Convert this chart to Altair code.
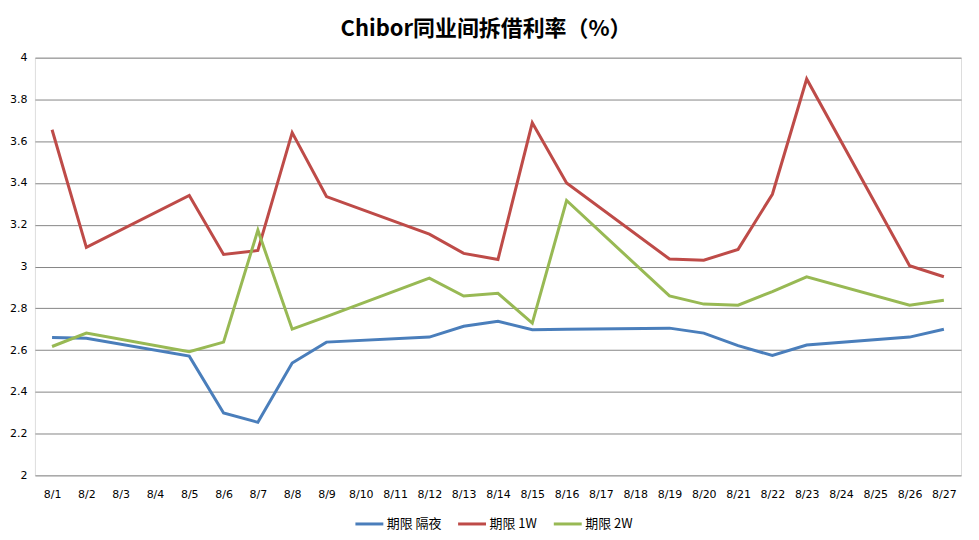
import altair as alt
import pandas as pd

all_days = ["8/1", "8/2", "8/3", "8/4", "8/5", "8/6", "8/7", "8/8", "8/9", "8/10",
            "8/11", "8/12", "8/13", "8/14", "8/15", "8/16", "8/17", "8/18", "8/19",
            "8/20", "8/21", "8/22", "8/23", "8/24", "8/25", "8/26", "8/27"]

dates = ["8/1", "8/2", "8/5", "8/6", "8/7", "8/8", "8/9", "8/12", "8/13", "8/14",
         "8/15", "8/16", "8/19", "8/20", "8/21", "8/22", "8/23", "8/26", "8/27"]

overnight = [2.660, 2.657, 2.571, 2.299, 2.254, 2.538, 2.638, 2.662, 2.714, 2.738,
             2.697, 2.700, 2.705, 2.681, 2.621, 2.574, 2.624, 2.662, 2.700]
week1 = [3.655, 3.092, 3.340, 3.058, 3.077, 3.641, 3.335, 3.155, 3.063, 3.034,
         3.688, 3.400, 3.036, 3.030, 3.082, 3.346, 3.898, 3.004, 2.951]
week2 = [2.617, 2.681, 2.592, 2.638, 3.174, 2.700, 2.760, 2.944, 2.859, 2.872,
         2.729, 3.316, 2.859, 2.820, 2.815, 2.880, 2.951, 2.815, 2.838]

series_names = ["期限 隔夜", "期限 1W", "期限 2W"]
series_colors = ["#4A7EBB", "#BE4B48", "#98B954"]

rows = []
for name, vals in zip(series_names, [overnight, week1, week2]):
    for d, v in zip(dates, vals):
        rows.append({"date": d, "value": v, "series": name})
df = pd.DataFrame(rows)

chart = alt.Chart(df).mark_line(strokeWidth=3).encode(
    x=alt.X("date:O", scale=alt.Scale(domain=all_days, type="point", padding=0.5),
            sort=all_days,
            axis=alt.Axis(title=None, labelAngle=0, ticks=False, domain=False,
                          labelFont="DejaVu Sans", labelFontSize=11, labelColor="#000000",
                          labelPadding=13, grid=False)),
    y=alt.Y("value:Q", scale=alt.Scale(domain=[2, 4], nice=False, zero=False),
            axis=alt.Axis(title=None, values=[2, 2.2, 2.4, 2.6, 2.8, 3, 3.2, 3.4, 3.6, 3.8, 4],
                          format="~g", ticks=False, domain=False,
                          labelFont="DejaVu Sans", labelFontSize=11, labelColor="#000000",
                          labelPadding=8, gridColor="#868686", gridWidth=1)),
    color=alt.Color("series:N", scale=alt.Scale(domain=series_names, range=series_colors),
                    sort=series_names,
                    legend=alt.Legend(title=None, orient="none", direction="horizontal",
                                      legendX=320, legendY=452,
                                      symbolType="stroke", symbolSize=784,
                                      symbolStrokeWidth=3, columnPadding=10,
                                      labelOffset=2,
                                      labelFont="Noto Sans CJK SC", labelFontSize=13,
                                      labelColor="#000000")),
).properties(
    width=929,
    height=419,
    title=alt.TitleParams("Chibor同业间拆借利率（%）", font="Noto Sans CJK SC",
                          fontSize=22, fontWeight="bold", color="#000000",
                          anchor="middle", dx=-12, offset=11),
    autosize=alt.AutoSizeParams(type="none"),
    padding={"left": 27, "top": 49, "right": 10, "bottom": 62},
).configure_view(
    stroke=None
).configure(
    background="white"
)

chart.save("out.html", embed_options={"renderer": "svg", "actions": False})
